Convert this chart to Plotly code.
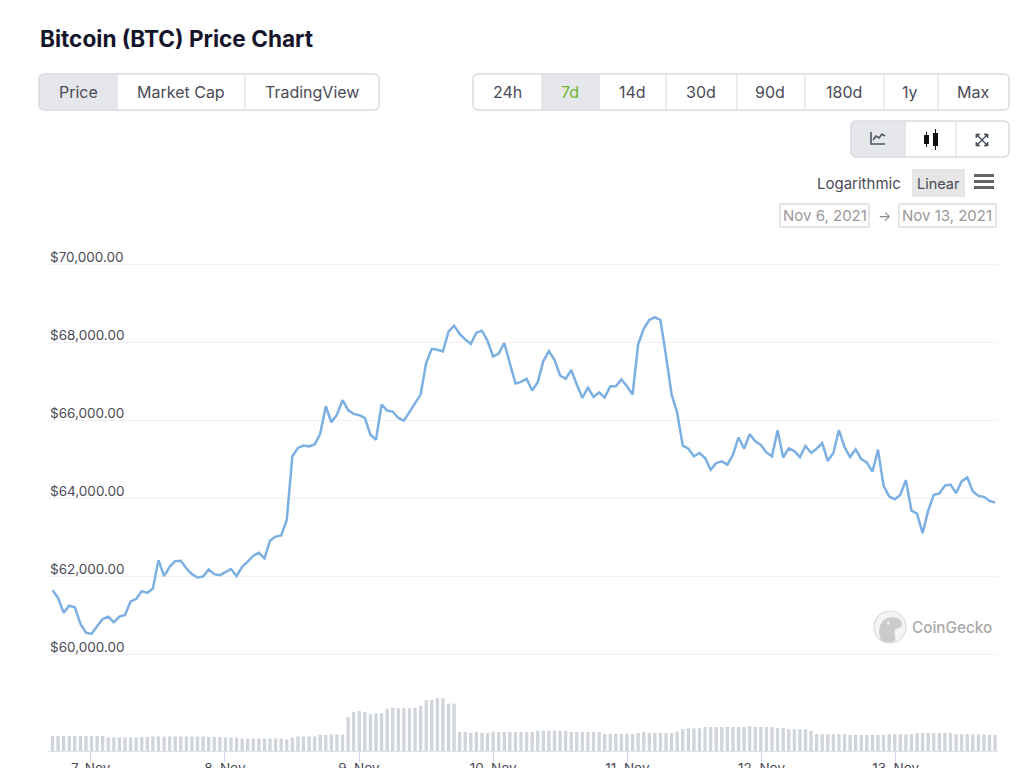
import pandas as pd
import plotly.graph_objects as go

title = "Bitcoin (BTC) Price Chart"
price_values = [
    61640, 61440, 61060, 61240, 61200, 60780, 60550, 60515, 60710, 60900,
    60960, 60815, 60960, 61005, 61350, 61410, 61615, 61570, 61680, 62410,
    62000, 62240, 62385, 62395, 62200, 62050, 61965, 61990, 62170, 62050,
    62025, 62100, 62180, 62000, 62240, 62370, 62525, 62600, 62455, 62910,
    63015, 63045, 63440, 65075, 65290, 65350, 65330, 65380, 65655, 66360,
    65950, 66145, 66515, 66260, 66165, 66130, 66060, 65630, 65500, 66405,
    66250, 66225, 66060, 65990, 66205, 66430, 66660, 67475, 67835, 67810,
    67770, 68275, 68430, 68215, 68075, 67965, 68250, 68300, 68035, 67640,
    67710, 67985, 67475, 66945, 66985, 67065, 66765, 66980, 67520, 67775,
    67555, 67150, 67065, 67290, 66920, 66575, 66835, 66600, 66715, 66585,
    66875, 66875, 67050, 66875, 66660, 67950, 68350, 68575, 68645, 68575,
    67650, 66660, 66190, 65350, 65270, 65075, 65160, 65030, 64730, 64900,
    64945, 64860, 65115, 65560, 65270, 65640, 65460, 65365, 65175, 65075,
    65745, 65045, 65280, 65210, 65055, 65340, 65165, 65270, 65415, 64955,
    65160, 65750, 65315, 65055, 65255, 65005, 64920, 64680, 65245, 64320,
    64045, 63975, 64085, 64465, 63680, 63605, 63100, 63680, 64085, 64120,
    64325, 64350, 64130, 64430, 64530, 64170, 64060, 64035, 63930, 63890,
]
volume_values = [
    15, 15, 15, 15, 15, 15, 15, 15, 15, 15,
    13.5, 13.5, 13.5, 13.5, 13.5, 13.5, 14, 14,
    14.5, 14.5, 14.5, 14.5, 14.5, 14.5, 14.5, 14.5, 14.5, 14.5,
    14, 14, 14, 13.5, 13.5, 13.5,
    12.5, 12.5, 12.5, 12.5, 12.5, 12.5, 12.5, 12.5, 11.5, 13.5,
    14.5, 14.5, 14.5, 14.5, 16, 16, 16.5, 16.5, 16.5,
    34, 39, 40, 39, 36.7, 37.7, 37.7, 42.3, 43.3, 42.7, 42.7, 42.7, 43.3, 45,
    50.7, 51, 52.7, 52.7, 47.3, 47.3,
    19, 19, 18, 19, 18, 18, 19, 19, 19, 19, 19, 19, 19, 19,
    20.3, 20.3, 20.3, 20.3, 20.3, 20.3, 19, 19, 19, 19, 19, 19,
    17, 17, 17, 17, 17, 17, 18, 19, 18, 18, 18, 18, 18, 19,
    22, 22.7, 22.7, 22.7, 24, 24, 24, 24, 24, 24, 24, 24, 25, 24, 24, 24, 24,
    23, 23, 21.7, 21.7, 21.7, 21.7, 20, 17,
    16.7, 16.7, 16.7, 16.7, 16.7, 16, 16, 16, 16, 16, 16, 16,
    16.7, 16.7, 16.7, 16.7, 16.7, 18, 18, 18, 18, 18, 18, 18,
    16.7, 16.7, 16.7, 16.7, 16.7, 16.7, 16, 16,
]
price_ticks = [60000, 62000, 64000, 66000, 68000, 70000]
day_ticks = ["2021-11-07", "2021-11-08", "2021-11-09", "2021-11-10",
             "2021-11-11", "2021-11-12", "2021-11-13"]
day_labels = ["7. Nov", "8. Nov", "9. Nov", "10. Nov", "11. Nov", "12. Nov", "13. Nov"]

assert len(price_values) == len(volume_values)
times = pd.date_range("2021-11-06 17:10", "2021-11-13 17:47", periods=len(price_values))

W, H = 1024, 768
FONT = "Inter, 'Noto Sans', sans-serif"
TXT = "#4b4b57"
BORDER = "#d9dbe0"
ACTIVE = "#e5e7eb"
X_RANGE = ["2021-11-06 16:11", "2021-11-13 18:18"]


def fx(x):
    return x / W


def fy(y):
    return 1 - y / H


def P(cmds):
    """Build an SVG path in paper units from (command, pixel coords...) tuples."""
    out = []
    for c in cmds:
        if isinstance(c, str):
            out.append(c)
        else:
            out.append(c[0] + " " + " ".join(
                f"{fx(v) if k % 2 == 0 else fy(v):.5f}" for k, v in enumerate(c[1:])))
    return " ".join(out)


def path(cmds, fill="rgba(0,0,0,0)", line=None, lw=1.0):
    return dict(type="path", xref="paper", yref="paper", path=P(cmds),
                fillcolor=fill, line=dict(color=line or "rgba(0,0,0,0)", width=lw if line else 0),
                layer="above")


def round_rect(x0, y0, x1, y1, r, left=True, right=True, **kw):
    k = r * 0.45
    cmds = []
    if left:
        cmds += [("M", x0 + r, y0)]
    else:
        cmds += [("M", x0, y0)]
    if right:
        cmds += [("L", x1 - r, y0), ("C", x1 - k, y0, x1, y0 + k, x1, y0 + r),
                 ("L", x1, y1 - r), ("C", x1, y1 - k, x1 - k, y1, x1 - r, y1)]
    else:
        cmds += [("L", x1, y0), ("L", x1, y1)]
    if left:
        cmds += [("L", x0 + r, y1), ("C", x0 + k, y1, x0, y1 - k, x0, y1 - r),
                 ("L", x0, y0 + r), ("C", x0, y0 + k, x0 + k, y0, x0 + r, y0)]
    else:
        cmds += [("L", x0, y1)]
    cmds.append("Z")
    return path(cmds, **kw)


def rect(x0, y0, x1, y1, fill="rgba(0,0,0,0)", line=None, lw=1.0):
    return path([("M", x0, y0), ("L", x1, y0), ("L", x1, y1), ("L", x0, y1), "Z"], fill, line, lw)


def vline(x, y0, y1, color=BORDER):
    return path([("M", x, y0), ("L", x, y1)], line=color, lw=1)


def label(text, x, y, size=16, color=TXT, anchor="center", weight=400):
    return dict(text=text, x=fx(x), y=fy(y), xref="paper", yref="paper", showarrow=False,
                xanchor=anchor, yanchor="middle",
                font=dict(family=FONT, size=size, color=color, weight=weight))


shapes = []
annotations = [label(title, 37.5, 38.5, size=22.6, color="#14142b", anchor="left", weight=700)]

# button group: chart kind
shapes.append(round_rect(39, 74, 117, 110, 5, right=False, fill=ACTIVE))
shapes.append(round_rect(39, 74, 379, 110, 5, fill="rgba(0,0,0,0)", line=BORDER, lw=1.5))
shapes += [vline(117, 74, 110), vline(245, 74, 110)]
annotations += [label("Price", 78, 92), label("Market Cap", 181, 92), label("TradingView", 312, 92)]

# button group: period
shapes.append(rect(542, 74, 599, 110, fill=ACTIVE))
shapes.append(round_rect(473, 74, 1009, 110, 5, line=BORDER, lw=1.5))
for xd in (542, 599, 666, 737, 805, 884, 938):
    shapes.append(vline(xd, 74, 110))
annotations += [label("24h", 507, 92), label("7d", 570, 92, color="#6fb52f"),
                label("14d", 632, 92), label("30d", 701, 92), label("90d", 770, 92),
                label("180d", 844, 92), label("1y", 910, 92), label("Max", 973, 92)]

# button group: icons
shapes.append(round_rect(851, 121, 905, 157, 5, right=False, fill=ACTIVE))
shapes.append(round_rect(851, 121, 1009, 157, 5, line=BORDER, lw=1.5))
shapes += [vline(905, 121, 157), vline(956, 121, 157)]
ICON = "#4b5563"
shapes.append(path([("M", 871, 132), ("L", 871, 144), ("L", 885, 144)], line=ICON, lw=1.6))
shapes.append(path([("M", 873, 140), ("L", 876, 136), ("L", 879, 138), ("L", 882, 134), ("L", 885, 136)],
                   line=ICON, lw=1.6))
shapes.append(rect(924, 135, 929, 144, fill="#111111"))
shapes.append(vline(926.5, 132, 147, "#111111"))
shapes.append(rect(933, 133, 938, 146, fill="#111111"))
shapes.append(vline(935.5, 129, 150, "#111111"))
shapes.append(path([("M", 977, 135), ("L", 987, 145), ("M", 987, 135), ("L", 977, 145)], line=ICON, lw=1.4))
for sx, sy in ((-1, -1), (1, -1), (-1, 1), (1, 1)):
    cx, cy = 982 + sx * 6, 140 + sy * 6
    shapes.append(path([("M", cx, cy), ("L", cx - sx * 4, cy), ("L", cx, cy - sy * 4), "Z"],
                       fill=ICON, line=ICON, lw=0.8))

# scale switch and date range
annotations += [label("Logarithmic", 859, 183, size=15)]
shapes.append(rect(912, 169, 965, 197, fill="#e6e6e6"))
annotations += [label("Linear", 938, 183, size=14.5)]
for yb in (174, 180, 186):
    shapes.append(rect(974, yb, 994, yb + 3, fill="#666666"))
shapes.append(rect(780, 204, 869, 227, line="#cccccc"))
shapes.append(rect(899, 204, 996, 227, line="#cccccc"))
annotations += [label("Nov 6, 2021", 825, 215.5, size=15, color="#999999"),
                label("→", 884, 215, size=14, color="#888888"),
                label("Nov 13, 2021", 947, 215.5, size=15, color="#999999")]

# CoinGecko watermark
shapes.append(dict(type="circle", xref="paper", yref="paper", x0=fx(874), x1=fx(906), y0=fy(643), y1=fy(611),
                   fillcolor="#f4f4f4", line=dict(color="#dcdcdc", width=1.2), layer="above"))
shapes.append(path([("M", 881, 640), ("C", 877, 630, 880, 620, 888, 618), ("C", 895, 616, 902, 619, 902, 624),
                    ("C", 902, 628, 897, 628, 895, 630), ("C", 894, 634, 896, 639, 895, 641),
                    ("C", 890, 643, 884, 643, 881, 640), "Z"], fill="#cbcbcb"))
shapes.append(dict(type="circle", xref="paper", yref="paper", x0=fx(887), x1=fx(890), y0=fy(624.5), y1=fy(621.5),
                   fillcolor="#f4f4f4", line=dict(width=0), layer="above"))
annotations.append(label("CoinGecko", 910, 627, size=15.3, color="#a9a9a9", anchor="left", weight=500))

fig = go.Figure()
fig.add_trace(go.Bar(x=times, y=volume_values, xaxis="x", yaxis="y2",
                     marker=dict(color="#d0d4db", line=dict(width=0)), showlegend=False))
fig.add_trace(go.Scatter(x=times, y=price_values, mode="lines", xaxis="x2", yaxis="y",
                         line=dict(color="#7cb0e2", width=2.5), showlegend=False))

fig.update_layout(
    width=W, height=H, autosize=False,
    margin=dict(l=0, r=0, t=0, b=0, pad=0, autoexpand=False),
    paper_bgcolor="#ffffff", plot_bgcolor="#ffffff",
    bargap=0.41,
    shapes=shapes, annotations=annotations,
    font=dict(family=FONT, size=13, color=TXT),
    xaxis=dict(domain=[fx(47), fx(998)], range=X_RANGE, automargin=False,
               type="date", anchor="y2", tickmode="array", tickvals=day_ticks, ticktext=day_labels,
               ticks="outside", ticklen=10, tickwidth=1, tickcolor="#ccd6eb", ticklabelstandoff=-5,
               showgrid=False, showline=True, linecolor="#dde1e8", linewidth=1, zeroline=False,
               tickfont=dict(family=FONT, size=13.5, color=TXT)),
    xaxis2=dict(domain=[fx(47), fx(998)], range=X_RANGE, automargin=False, type="date", anchor="y",
                showgrid=False, showline=False, showticklabels=False, ticks="", zeroline=False),
    yaxis=dict(domain=[fy(661.8), fy(248.9)], range=[59800, 70400], anchor="x2", automargin=False,
               tickmode="array", tickvals=price_ticks, tickformat="$,.2f",
               ticklabelposition="inside", ticklabelshift=-7, ticks="",
               showgrid=True, gridcolor="#f1f1f3", gridwidth=1, zeroline=False, showline=False,
               tickfont=dict(family=FONT, size=13.5, color=TXT)),
    yaxis2=dict(domain=[fy(751), fy(691)], range=[0, 60], anchor="x", automargin=False,
                showgrid=False, zeroline=False, showline=False, showticklabels=False, ticks=""),
)

fig.write_html("out.html", config=dict(displayModeBar=False),
               post_script="document.body.style.margin='0';document.documentElement.style.overflow='hidden';")
